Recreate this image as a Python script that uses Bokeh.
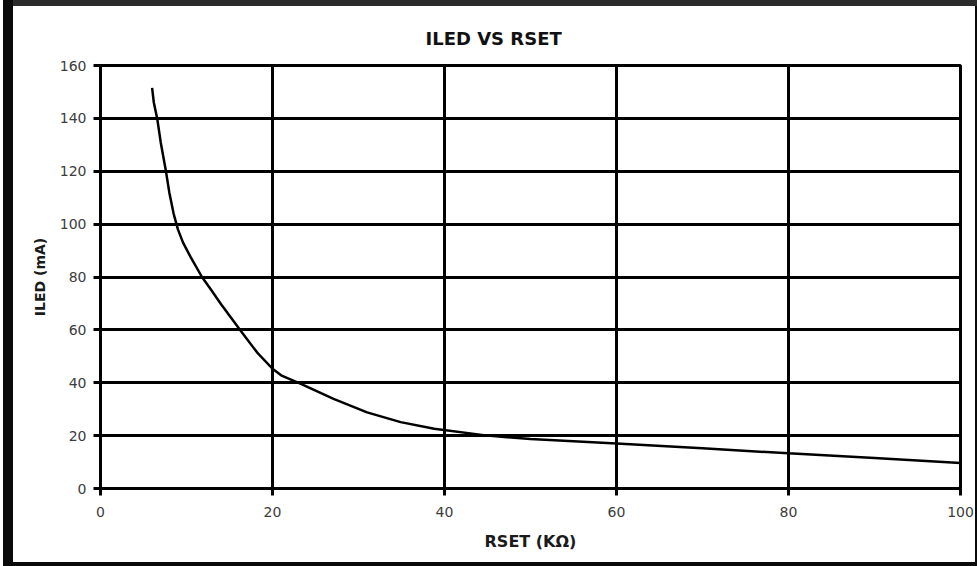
from bokeh.plotting import figure
from bokeh.models import Range1d, FixedTicker
from bokeh.embed import file_html
from bokeh.resources import INLINE

# Data
rset_kohm = [6.0, 6.2, 6.6, 7.0, 7.6, 8.0, 8.5, 9.0, 9.6, 10.5, 11.8, 13.0, 14.0,
             16.3, 18.2, 20.0, 21.0, 23.3, 27.1, 31.0, 34.9, 38.8, 45.0, 50.0,
             60.0, 70.0, 80.0, 90.0, 100.0]
iled_ma = [151.5, 146.0, 139.8, 131.0, 120.2, 112.0, 104.0, 98.0, 93.0, 87.4, 80.0,
           74.5, 69.8, 59.7, 51.5, 45.3, 42.8, 39.6, 33.9, 28.8, 25.1, 22.6, 20.0,
           18.7, 17.0, 15.2, 13.3, 11.5, 9.6]
x_ticks = [0, 20, 40, 60, 80, 100]
y_ticks = [0, 20, 40, 60, 80, 100, 120, 140, 160]

p = figure(width=962, height=556, output_backend="svg", toolbar_location=None,
           x_range=Range1d(0, 100), y_range=Range1d(0, 160),
           min_border_left=87, min_border_right=15, min_border_top=59,
           min_border_bottom=74)
p.styles = {
    "margin-left": "13px",
    "margin-top": "6px",
    "box-shadow": ("-10px 0 0 0 #0a0a0a, 0 -6px 0 0 #2b2b2b, 0 4px 0 0 #0a0a0a, "
                   "2px 0 0 0 #0a0a0a, -10px -6px 0 0 #0a0a0a, -10px 4px 0 0 #0a0a0a, "
                   "2px -6px 0 0 #2b2b2b, 2px 4px 0 0 #0a0a0a"),
}

p.title.text = "ILED VS RSET"
p.title.text_font = "DejaVu Sans"
p.title.text_font_size = "18px"
p.title.text_font_style = "bold"
p.title.text_color = "#111111"
p.title.align = "left"
p.title.offset = 325
p.title.standoff = 34

p.background_fill_color = "white"
p.border_fill_color = "white"
p.outline_line_color = "black"
p.outline_line_width = 3

for ax in (p.xaxis[0], p.yaxis[0]):
    ax.axis_line_color = "black"
    ax.axis_line_width = 3
    ax.major_tick_line_color = "black"
    ax.major_tick_line_width = 3
    ax.major_tick_in = 0
    ax.major_tick_out = 7
    ax.minor_tick_line_color = None
    ax.major_label_text_font = "DejaVu Sans"
    ax.major_label_text_font_size = "14px"
    ax.major_label_text_color = "#3c3c3c"
    ax.axis_label_text_font = "DejaVu Sans"
    ax.axis_label_text_font_style = "bold"
    ax.axis_label_text_color = "#1a1a1a"

p.xaxis.ticker = FixedTicker(ticks=x_ticks)
p.yaxis.ticker = FixedTicker(ticks=y_ticks)
p.xaxis.axis_label = "RSET (KΩ)"
p.yaxis.axis_label = "ILED (mA)"
p.xaxis.axis_label_text_font_size = "16px"
p.yaxis.axis_label_text_font_size = "14px"
p.xaxis.major_label_standoff = 11
p.yaxis.major_label_standoff = 7
p.xaxis.axis_label_standoff = 12
p.yaxis.axis_label_standoff = 9

p.xgrid.grid_line_color = "black"
p.xgrid.grid_line_width = 3
p.ygrid.grid_line_color = "black"
p.ygrid.grid_line_width = 3

p.line(rset_kohm, iled_ma, line_color="black", line_width=2.5)

open("out.html", "w").write(file_html(p, INLINE))
